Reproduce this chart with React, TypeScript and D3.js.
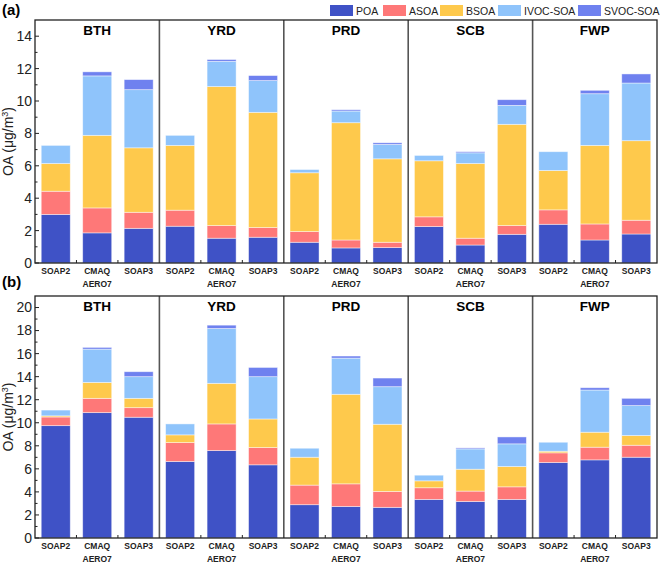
import * as d3 from "d3";

const regions = ["BTH", "YRD", "PRD", "SCB", "FWP"];
const schemes = ["SOAP2", "CMAQ", "SOAP3"];
const schemeLabels = [["SOAP2"], ["CMAQ", "AERO7"], ["SOAP3"]];
const species = ["POA", "ASOA", "BSOA", "IVOC-SOA", "SVOC-SOA"];
const colors = ["#3f52c6", "#fe7878", "#fec94c", "#8fc4fb", "#6f81ef"];

// panel (a): order BTH(SOAP2,CMAQ,SOAP3), YRD, PRD, SCB, FWP
const poaA = [3.0, 1.86, 2.14, 2.27, 1.53, 1.59, 1.28, 0.93, 0.95, 2.25, 1.11, 1.77, 2.39, 1.42, 1.79];
const asoaA = [1.43, 1.54, 0.99, 0.99, 0.78, 0.6, 0.66, 0.49, 0.33, 0.6, 0.42, 0.54, 0.89, 0.99, 0.85];
const bsoaA = [1.71, 4.48, 3.98, 4.0, 8.58, 7.11, 3.63, 7.24, 5.15, 3.46, 4.61, 6.25, 2.43, 4.85, 4.91];
const ivocA = [1.12, 3.67, 3.59, 0.62, 1.56, 1.96, 0.2, 0.72, 0.89, 0.33, 0.66, 1.17, 1.16, 3.19, 3.56];
const svocA = [0, 0.25, 0.62, 0, 0.11, 0.31, 0, 0.08, 0.1, 0, 0.07, 0.35, 0, 0.21, 0.56];

// panel (b)
const poaB = [9.75, 10.88, 10.48, 6.64, 7.59, 6.35, 2.89, 2.74, 2.66, 3.35, 3.17, 3.35, 6.55, 6.78, 7.01];
const asoaB = [0.75, 1.24, 0.83, 1.64, 2.31, 1.5, 1.7, 1.96, 1.38, 1.01, 0.9, 1.09, 0.84, 1.1, 1.04];
const bsoaB = [0.1, 1.38, 0.81, 0.67, 3.52, 2.48, 2.42, 7.77, 5.83, 0.6, 1.9, 1.76, 0.14, 1.3, 0.84];
const ivocB = [0.5, 2.89, 1.88, 0.95, 4.76, 3.67, 0.78, 3.14, 3.26, 0.49, 1.76, 1.97, 0.78, 3.66, 2.6];
const svocB = [0, 0.15, 0.43, 0, 0.29, 0.8, 0, 0.18, 0.75, 0, 0.09, 0.6, 0, 0.2, 0.63];

const ticksA = [0, 2, 4, 6, 8, 10, 12, 14];
const ticksB = [0, 2, 4, 6, 8, 10, 12, 14, 16, 18, 20];

const W = 661;
const H = 563;
const left = 35;
const right = 657;
const font = "'Liberation Sans', Arial, sans-serif";

const xRegion = d3.scaleBand().domain(regions).range([left, right]);
const xScheme = d3
  .scaleBand()
  .domain(schemes)
  .range([0, xRegion.bandwidth()])
  .paddingInner(0.3)
  .paddingOuter(0.15);

function buildRows(series: number[][]) {
  const rows: any[] = [];
  regions.forEach((r, i) => {
    schemes.forEach((s, j) => {
      const row: any = { region: r, scheme: s };
      species.forEach((sp, k) => {
        row[sp] = series[k][i * 3 + j];
      });
      rows.push(row);
    });
  });
  return rows;
}

function Panel({ series, top, bottom, max, ticks, tag, tagY }: any) {
  const y = d3.scaleLinear().domain([0, max]).range([bottom, top]);
  const rows = buildRows(series);
  const stacked = d3.stack().keys(species)(rows);
  const minor = d3.range(1, max, 2);
  const between: number[] = [];
  regions.forEach((r) => {
    const x0 = xRegion(r)!;
    between.push(x0 + xScheme("CMAQ")! - xScheme.step() * 0.15);
    between.push(x0 + xScheme("SOAP3")! - xScheme.step() * 0.15);
  });
  return (
    <g>
      <text x={2} y={tagY} fontFamily={font} fontWeight="bold" fontSize={15}>
        {tag}
      </text>
      {stacked.map((layer, k) => (
        <g key={species[k]} fill={colors[k]}>
          {layer.map((d: any, i) => {
            const h = y(d[0]) - y(d[1]);
            if (h <= 0) return null;
            return (
              <rect
                key={i}
                x={xRegion(d.data.region)! + xScheme(d.data.scheme)!}
                y={y(d[1])}
                width={xScheme.bandwidth()}
                height={h}
                stroke="rgba(255,255,255,0.55)"
                strokeWidth={0.8}
              />
            );
          })}
        </g>
      ))}
      {regions.slice(1).map((r) => (
        <line
          key={r}
          x1={xRegion(r)}
          x2={xRegion(r)}
          y1={top}
          y2={bottom}
          stroke="#555"
          strokeWidth={1.6}
        />
      ))}
      <rect x={left} y={top} width={right - left} height={bottom - top} fill="none" stroke="#222" strokeWidth={1.3} />
      {regions.map((r) => (
        <text
          key={r}
          x={xRegion(r)! + xRegion.bandwidth() / 2}
          y={top + 15}
          textAnchor="middle"
          fontFamily={font}
          fontWeight="bold"
          fontSize={13.5}
        >
          {r}
        </text>
      ))}
      {ticks.map((t: number) => (
        <g key={t}>
          <line x1={left} x2={left + 4} y1={y(t)} y2={y(t)} stroke="#222" />
          <text
            x={left - 3}
            y={y(t)}
            dy="0.35em"
            textAnchor="end"
            fontFamily={font}
            fontSize={14}
            fill="#222"
          >
            {t}
          </text>
        </g>
      ))}
      {minor.map((t) => (
        <line key={"m" + t} x1={left} x2={left + 2.5} y1={y(t)} y2={y(t)} stroke="#222" />
      ))}
      {between.map((bx, i) => (
        <line key={"b" + i} x1={bx} x2={bx} y1={bottom} y2={bottom - 3} stroke="#222" />
      ))}
      {regions.map((r) =>
        schemes.map((s, j) => (
          <text
            key={r + s}
            x={xRegion(r)! + xScheme(s)! + xScheme.bandwidth() / 2}
            y={bottom + 11}
            textAnchor="middle"
            fontFamily={font}
            fontWeight="bold"
            fontSize={8.5}
            fill="#222"
          >
            {schemeLabels[j].map((ln, li) => (
              <tspan key={li} x={xRegion(r)! + xScheme(s)! + xScheme.bandwidth() / 2} dy={li === 0 ? 0 : 12.5}>
                {ln}
              </tspan>
            ))}
          </text>
        ))
      )}
      <text
        transform={`translate(13,${(top + bottom) / 2}) rotate(-90)`}
        textAnchor="middle"
        fontFamily={font}
        fontSize={14}
        fill="#222"
      >
        OA (μg/m
        <tspan dy={-5} fontSize={9}>
          3
        </tspan>
        <tspan dy={5}>)</tspan>
      </text>
    </g>
  );
}

const legendX = [330, 383, 440, 498, 578];

export default function App() {
  return (
    <svg
      width={W}
      height={H}
      style={{ position: "absolute", left: 0, top: 0, background: "#fff" }}
    >
      {species.map((sp, k) => (
        <g key={sp} transform={`translate(${legendX[k]},5)`}>
          <rect width={23} height={11} fill={colors[k]} />
          <text x={26} y={10} fontFamily={font} fontSize={10.5} fill="#222">
            {sp}
          </text>
        </g>
      ))}
      <Panel
        series={[poaA, asoaA, bsoaA, ivocA, svocA]}
        top={20}
        bottom={263}
        max={15}
        ticks={ticksA}
        tag="(a)"
        tagY={15}
      />
      <Panel
        series={[poaB, asoaB, bsoaB, ivocB, svocB]}
        top={296}
        bottom={538}
        max={21}
        ticks={ticksB}
        tag="(b)"
        tagY={287}
      />
    </svg>
  );
}
